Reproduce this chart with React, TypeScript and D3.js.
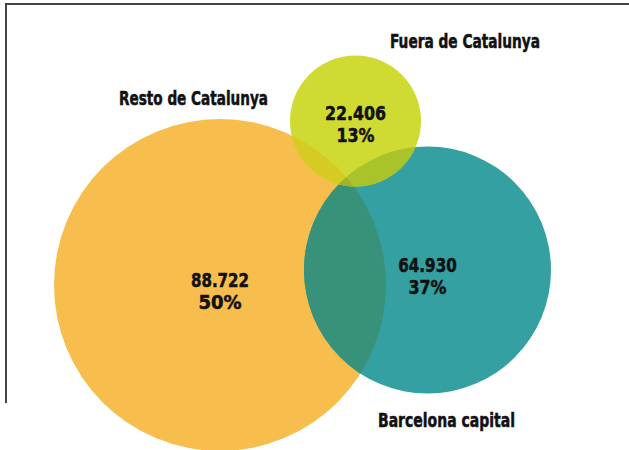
import React from "react";
import * as d3 from "d3";

const width = 629;
const height = 450;

const categories = ["Resto de Catalunya", "Barcelona capital", "Fuera de Catalunya"];
const values = [88722, 64930, 22406];
const percents = [50, 37, 13];
const colors = ["#F7BE4E", "#34A0A1", "#CFDA33"];

// where each circle sits and where its name goes (layout only)
const centers = [
  [220, 285],
  [427.5, 270],
  [355.5, 121],
];
const nameAnchors = [
  [193.5, 105],
  [446.5, 427],
  [465, 48],
];
// measured text widths in the original (narrow font)
const nameWidths = [149, 137, 150];
const valueWidths = [58, 58.5, 61];
const pctWidths = [43, 38, 38];

const radius = d3
  .scaleSqrt()
  .domain([22406, 64930, 88722])
  .range([65.5, 123.5, 166]);

const fmt = (v: number) => d3.format(",")(v).replace(/,/g, ".");

const font = "'DejaVu Sans Condensed', 'DejaVu Sans', sans-serif";

export default function App() {
  const circles = values.map((v, i) => ({
    name: categories[i],
    value: v,
    pct: percents[i],
    color: colors[i],
    cx: centers[i][0],
    cy: centers[i][1],
    r: radius(v),
  }));
  const [resto, bcn, fuera] = circles;

  return (
    <svg
      width={width}
      height={height}
      style={{ position: "absolute", left: 0, top: 0, background: "#fff" }}
    >
      <defs>
        <clipPath id="clip-resto">
          <circle cx={resto.cx} cy={resto.cy} r={resto.r} />
        </clipPath>
        <clipPath id="clip-bcn">
          <circle cx={bcn.cx} cy={bcn.cy} r={bcn.r} />
        </clipPath>
      </defs>

      {/* frame */}
      <path d="M6,403V4H629" fill="none" stroke="#444" strokeWidth={2} />

      {circles.map((c) => (
        <circle key={c.name} cx={c.cx} cy={c.cy} r={c.r} fill={c.color} />
      ))}

      {/* overlaps */}
      <g clipPath="url(#clip-resto)">
        <circle cx={bcn.cx} cy={bcn.cy} r={bcn.r} fill="#38927A" />
        <circle cx={fuera.cx} cy={fuera.cy} r={fuera.r} fill="#D5CB22" />
      </g>
      <g clipPath="url(#clip-bcn)">
        <circle cx={fuera.cx} cy={fuera.cy} r={fuera.r} fill="#A8C42A" />
        <g clipPath="url(#clip-resto)">
          <circle cx={fuera.cx} cy={fuera.cy} r={fuera.r} fill="#9DB52E" />
        </g>
      </g>

      {circles.map((c, i) => {
        const base = c.cy + (i === 2 ? -1.5 : 1.5);
        return (
          <g
            key={c.name + "-lbl"}
            fontFamily={font}
            fontWeight="bold"
            fill="#111"
            stroke="#111"
            strokeWidth={0.5}
            textAnchor="middle"
          >
            <text fontSize={19}>
              <tspan
                x={c.cx}
                y={base}
                textLength={valueWidths[i]}
                lengthAdjust="spacingAndGlyphs"
              >
                {fmt(c.value)}
              </tspan>
              <tspan
                x={c.cx}
                y={base + 22}
                textLength={pctWidths[i]}
                lengthAdjust="spacingAndGlyphs"
              >
                {c.pct}%
              </tspan>
            </text>
            <text
              x={nameAnchors[i][0]}
              y={nameAnchors[i][1]}
              fontSize={19}
              textLength={nameWidths[i]}
              lengthAdjust="spacingAndGlyphs"
            >
              {c.name}
            </text>
          </g>
        );
      })}
    </svg>
  );
}
